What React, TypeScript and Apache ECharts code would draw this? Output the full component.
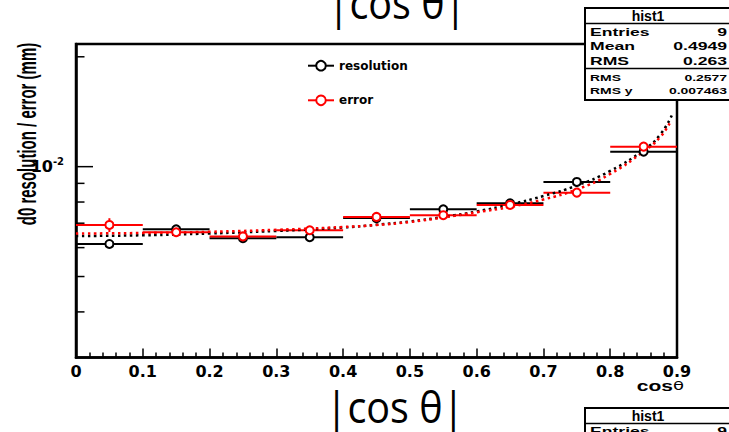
import React, { useEffect, useRef } from 'react';
import * as echarts from 'echarts';

// ---- data ----
const binCenters = [0.05, 0.15, 0.25, 0.35, 0.45, 0.55, 0.65, 0.75, 0.85];
const binHalfWidth = 0.05;
const resolution = [0.00614, 0.006738, 0.006366, 0.006406, 0.007228, 0.007643, 0.007938, 0.00908, 0.010993];
const resolutionErr = [0.00008, 0.00008, 0.00008, 0.00008, 0.00008, 0.00008, 0.00008, 0.00008, 0.0001];
const errorVals = [0.006923, 0.006612, 0.00644, 0.006696, 0.007283, 0.007362, 0.007854, 0.008488, 0.011346];
const errorErr = [0.0003, 0.0001, 0.0001, 0.0001, 0.00018, 0.0001, 0.0001, 0.0001, 0.0001];

const fitBlackX = [0, 0.1, 0.2, 0.3, 0.4, 0.45, 0.5, 0.55, 0.6, 0.65, 0.7, 0.75, 0.8, 0.85, 0.875, 0.8925];
const fitBlackY = [0.006457, 0.006486, 0.00656, 0.006665, 0.006813, 0.00693, 0.007076, 0.007281, 0.007538, 0.00788, 0.008312, 0.008881, 0.009732, 0.011111, 0.01225, 0.013857];
const fitRedX = [0, 0.1, 0.2, 0.3, 0.4, 0.45, 0.5, 0.55, 0.6, 0.65, 0.7, 0.75, 0.8, 0.85, 0.875, 0.89];
const fitRedY = [0.00656, 0.00658, 0.006631, 0.006715, 0.006834, 0.006921, 0.007054, 0.007258, 0.0075, 0.007755, 0.008131, 0.008661, 0.00955, 0.011006, 0.012058, 0.013262];

const xTickLabels = ['0', '0.1', '0.2', '0.3', '0.4', '0.5', '0.6', '0.7', '0.8', '0.9'];
const yTickValues = [0.004, 0.005, 0.006, 0.007, 0.008, 0.009, 0.01, 0.02];
const yMin = 0.003;
const yMax = 0.02168;

const legendNames = ['resolution', 'error'];
const statsTitle = 'hist1';
const statsLabels = ['Entries', 'Mean', 'RMS'];
const statsValues = ['9', '0.4949', '0.263'];
const statsLabels2 = ['RMS', 'RMS y'];
const statsValues2 = ['0.2577', '0.007463'];
const yTitle = 'd0 resolution / error (mm)';
const pageTitle = '|cos \u03b8|';

export default function App() {
  const ref = useRef<HTMLDivElement>(null);

  useEffect(() => {
    const chart = echarts.init(ref.current as HTMLDivElement, null, { renderer: 'svg' });

    const barRender = (color: string) => (params: any, api: any) => {
      const x = api.value(0);
      const y = api.value(1);
      const e = api.value(2);
      const l = api.coord([x - binHalfWidth, y]);
      const r = api.coord([x + binHalfWidth, y]);
      const t = api.coord([x, y + e]);
      const b = api.coord([x, y - e]);
      return {
        type: 'group',
        children: [
          { type: 'line', shape: { x1: l[0], y1: l[1], x2: r[0], y2: r[1] }, style: { stroke: color, lineWidth: 2 } },
          { type: 'line', shape: { x1: t[0], y1: t[1], x2: b[0], y2: b[1] }, style: { stroke: color, lineWidth: 2 } },
        ],
      };
    };

    const tickRender = (params: any, api: any) => {
      const v = api.value(1);
      const p = api.coord([0, v]);
      const len = Math.abs(Math.log10(v) + 2) < 1e-6 ? 17 : 8.5;
      return {
        type: 'line',
        shape: { x1: p[0], y1: p[1], x2: p[0] + len, y2: p[1] },
        style: { stroke: '#000', lineWidth: 1.5 },
      };
    };

    const bold = 'Liberation Sans';
    const txt = (text: string, x: number, y: number, align: string, size: number, scaleX: number, extra: any = {}) => ({
      type: 'text',
      x,
      y,
      scaleX,
      style: { text, align, verticalAlign: 'middle', fontFamily: bold, fontWeight: 'bold', fontSize: size, fill: '#000', ...extra },
    });

    const boxX = 585;
    const statsGraphic: any[] = [
      { type: 'rect', shape: { x: boxX, y: 8, width: 170, height: 92 }, style: { fill: '#fff', stroke: '#000', lineWidth: 2 } },
      { type: 'line', shape: { x1: boxX, y1: 23.5, x2: 729, y2: 23.5 }, style: { stroke: '#000', lineWidth: 1.5 } },
      { type: 'line', shape: { x1: boxX, y1: 68.5, x2: 729, y2: 68.5 }, style: { stroke: '#000', lineWidth: 1.5 } },
      txt(statsTitle, 648, 16, 'center', 14, 1),
    ];
    const rowsY = [32.3, 46.7, 61.3];
    statsLabels.forEach((s, i) => {
      statsGraphic.push(txt(s, 590, rowsY[i], 'left', 11, 1.6));
      statsGraphic.push(txt(statsValues[i], 727, rowsY[i], 'right', 11, 1.6));
    });
    const rowsY2 = [77.3, 90.7];
    statsLabels2.forEach((s, i) => {
      statsGraphic.push(txt(s, 590, rowsY2[i], 'left', 9, 1.55));
      statsGraphic.push(txt(statsValues2[i], 727, rowsY2[i], 'right', 9, 1.55));
    });
    // second canvas (below) stats box, partly visible
    statsGraphic.push(
      { type: 'rect', shape: { x: boxX, y: 408, width: 170, height: 60 }, style: { fill: '#fff', stroke: '#000', lineWidth: 2 } },
      { type: 'line', shape: { x1: boxX, y1: 423.5, x2: 729, y2: 423.5 }, style: { stroke: '#000', lineWidth: 1.5 } },
      txt(statsTitle, 648, 416, 'center', 14, 1),
      txt(statsLabels[0], 590, 431, 'left', 11, 1.6),
      txt(statsValues[0], 727, 431, 'right', 11, 1.6),
    );

    const option: any = {
      animation: false,
      backgroundColor: '#fff',
      grid: {
        left: 76,
        top: 44,
        width: 601,
        height: 313.5,
        show: true,
        borderColor: '#000',
        borderWidth: 2.5,
        backgroundColor: 'transparent',
      },
      legend: {
        data: legendNames,
        orient: 'vertical',
        left: 307,
        top: 59.7,
        padding: 0,
        itemGap: 22.6,
        itemWidth: 26,
        itemHeight: 12,
        selectedMode: false,
        lineStyle: { width: 2 },
        textStyle: { fontFamily: 'DejaVu Sans', fontWeight: 'bold', fontSize: 12, color: '#000' },
      },
      xAxis: {
        type: 'value',
        min: 0,
        max: 0.9,
        interval: 0.1,
        axisLine: { show: true, onZero: false, lineStyle: { color: '#000', width: 2.5 } },
        axisTick: { show: true, inside: true, length: 9, lineStyle: { color: '#000', width: 1.5 } },
        minorTick: { show: true, splitNumber: 5, length: 5, lineStyle: { color: '#000', width: 1.5 } },
        splitLine: { show: false },
        axisLabel: {
          color: '#000',
          fontFamily: 'DejaVu Sans',
          fontWeight: 'bold',
          fontSize: 16,
          margin: 6,
          formatter: (v: number) => xTickLabels[Math.round(v * 10)] ?? '',
        },
      },
      yAxis: {
        type: 'log',
        logBase: 10,
        min: yMin,
        max: yMax,
        axisLine: { show: true, onZero: false, lineStyle: { color: '#000', width: 2.5 } },
        axisTick: { show: false },
        minorTick: { show: false },
        splitLine: { show: false },
        axisLabel: {
          margin: 12,
          formatter: (v: number) => (Math.abs(Math.log10(v) + 2) < 1e-6 ? '{a|10}{b|-2}' : ''),
          rich: {
            a: { fontFamily: 'DejaVu Sans', fontWeight: 'bold', fontSize: 16, color: '#000', lineHeight: 20, verticalAlign: 'middle' },
            b: { fontFamily: 'DejaVu Sans', fontWeight: 'bold', fontSize: 10, color: '#000', lineHeight: 20, verticalAlign: 'top' },
          },
        },
      },
      graphic: [
        {
          type: 'text',
          x: 27,
          y: 134,
          rotation: Math.PI / 2,
          scaleY: 1.7,
          z: 50,
          style: { text: yTitle, align: 'center', verticalAlign: 'middle', fontFamily: bold, fontWeight: 'bold', fontSize: 15, fill: '#000' },
        },
        {
          type: 'text',
          x: 684,
          y: 386,
          scaleX: 1.5,
          style: {
            text: '{c|cos}{t|\u03b8}',
            align: 'right',
            verticalAlign: 'middle',
            rich: {
              c: { fontFamily: bold, fontWeight: 'bold', fontSize: 14, fill: '#000' },
              t: { fontFamily: 'DejaVu Sans', fontSize: 12, fill: '#000' },
            },
          },
        },
        {
          type: 'text',
          x: 395,
          y: 406,
          scaleX: 0.92,
          style: { text: pageTitle, align: 'center', verticalAlign: 'middle', fontFamily: 'Open Sans', fontSize: 43, fill: '#000' },
        },
        {
          type: 'text',
          x: 397,
          y: 2,
          scaleX: 0.92,
          style: { text: pageTitle, align: 'center', verticalAlign: 'middle', fontFamily: 'Open Sans', fontSize: 43, fill: '#000' },
        },
        { type: 'group', z: 100, children: statsGraphic },
      ],
      series: [
        {
          type: 'custom',
          name: 'resolution-bars',
          renderItem: barRender('#000'),
          data: binCenters.map((x, i) => [x, resolution[i], resolutionErr[i]]),
          z: 3,
        },
        {
          type: 'custom',
          name: 'error-bars',
          renderItem: barRender('#ff0000'),
          data: binCenters.map((x, i) => [x, errorVals[i], errorErr[i]]),
          z: 3,
        },
        {
          type: 'line',
          name: 'fit-resolution',
          data: fitBlackX.map((x, i) => [x, fitBlackY[i]]),
          smooth: true,
          symbol: 'none',
          lineStyle: { color: '#000', width: 2.5, type: [2.5, 3.5] },
          z: 4,
        },
        {
          type: 'line',
          name: 'fit-error',
          data: fitRedX.map((x, i) => [x, fitRedY[i]]),
          smooth: true,
          symbol: 'none',
          lineStyle: { color: '#ff0000', width: 2.5, type: [2.5, 3.5] },
          z: 4,
        },
        {
          type: 'line',
          name: 'resolution',
          data: binCenters.map((x, i) => [x, resolution[i]]),
          symbol: 'emptyCircle',
          symbolSize: 8,
          lineStyle: { width: 0, color: '#000' },
          itemStyle: { color: '#000', borderWidth: 2 },
          z: 5,
        },
        {
          type: 'line',
          name: 'error',
          data: binCenters.map((x, i) => [x, errorVals[i]]),
          symbol: 'emptyCircle',
          symbolSize: 8,
          lineStyle: { width: 0, color: '#ff0000' },
          itemStyle: { color: '#ff0000', borderWidth: 2 },
          z: 5,
        },
        {
          type: 'custom',
          name: 'y-ticks',
          renderItem: tickRender,
          data: yTickValues.map((v) => [0, v]),
          z: 6,
        },
      ],
    };

    chart.setOption(option);
    return () => chart.dispose();
  }, []);

  return <div ref={ref} style={{ position: 'absolute', left: 0, top: 0, width: 729, height: 432 }} />;
}
